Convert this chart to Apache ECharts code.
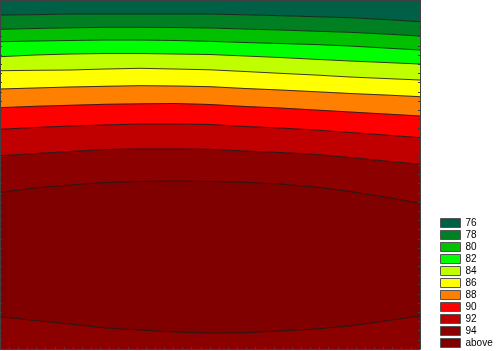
<!DOCTYPE html>
<html>
<head>
<meta charset="utf-8">
<script src="https://cdn.jsdelivr.net/npm/echarts@6/dist/echarts.min.js"></script>
<style>
html,body{margin:0;padding:0;background:#fff;}
#c{width:500px;height:351px;}
</style>
</head>
<body>
<div id="c"></div>
<script>
// Level names and colours (legend)
const levels = ['76','78','80','82','84','86','88','90','92','94','above'];
const levelColors = ['#006046','#008022','#00c000','#00ff00','#c0ff00','#ffff00','#ff8000','#ff0000','#c00000','#8c0000','#800000'];

// x sample positions of the contour boundaries (plot units)
const xs = [0,35,70,105,140,175,210,245,280,315,350,385,420];
const X_MAX = 420, Y_MAX = 349;

// Contour boundary lines (y measured from top of plot)
const line76_78 = [15,14.7,14,14,14,14,14,14.8,15.7,16.7,17.7,19.5,21.7];
const line78_80 = [29.3,28.5,27.8,27.3,27.3,27.5,28,29,30,31.2,32.3,34,36];
const line80_82 = [41.7,41,40.5,40,40,40.5,41.3,42.5,43.5,44.5,46,48,50];
const line82_84 = [56.7,55,54,53.5,53.5,54,54.5,56,57.5,59.3,61,62.5,64];
const line84_86 = [70.7,70.3,70,69,68.3,69,69.8,71.5,73.3,75,77,78.5,80];
const line86_88 = [89,88,87,86.3,85.7,86,86.7,88.5,90,91.7,93.5,95,96.7];
const line88_90 = [107.7,106.3,105.3,104.3,103.8,103.5,104.5,106.5,108,110,112,114,116];
const line90_92 = [129.3,127.5,126,125,124,124,124.5,126.5,128,130,132.5,135,137.7];
const line92_94 = [155.7,153.5,151.5,149.5,149,149,149.3,151,152.5,154.3,157.5,161,164.3];
const aboveTop    = [192.3,188,185,182.5,181.5,181,181.5,182.3,184,187,191.5,197,203.3];
const aboveBottom = [316.7,320.5,324,328,330,332,333,332.7,331,329,326,321,316];

const topEdge = xs.map(() => 0);
const bottomEdge = xs.map(() => Y_MAX);
const boundaries = [topEdge, line76_78, line78_80, line80_82, line82_84, line84_86,
  line86_88, line88_90, line90_92, line92_94, bottomEdge];
const contourLines = [line76_78, line78_80, line80_82, line82_84, line84_86,
  line86_88, line88_90, line90_92, line92_94, aboveTop, aboveBottom];

function bandRenderer(upper, lower, color) {
  return function (params, api) {
    const pts = [];
    for (let j = 0; j < xs.length; j++) pts.push(api.coord([xs[j], upper[j]]));
    for (let j = xs.length - 1; j >= 0; j--) pts.push(api.coord([xs[j], lower[j]]));
    return { type: 'polygon', shape: { points: pts }, style: { fill: color, stroke: color, lineWidth: 0.5 } };
  };
}

const series = [];
for (let k = 0; k < 10; k++) {
  series.push({
    name: levels[k], type: 'custom', xAxisIndex: 0, yAxisIndex: 0,
    itemStyle: { color: levelColors[k] },
    renderItem: bandRenderer(boundaries[k], boundaries[k + 1], levelColors[k]),
    data: [[k]], silent: true, z: 2
  });
}
series.push({
  name: 'above', type: 'custom', xAxisIndex: 0, yAxisIndex: 0,
  itemStyle: { color: levelColors[10] },
  renderItem: bandRenderer(aboveTop, aboveBottom, levelColors[10]),
  data: [[10]], silent: true, z: 2
});
contourLines.forEach((ln, i) => {
  series.push({
    name: 'c' + i, type: 'line', xAxisIndex: 0, yAxisIndex: 0,
    data: xs.map((x, j) => [x, ln[j]]), showSymbol: false, symbol: 'none',
    lineStyle: { color: '#1a1a1a', width: 1, opacity: 0.85 }, silent: true, z: 3
  });
});

function xAx(pos) {
  return { type: 'value', min: 0, max: X_MAX, interval: X_MAX / 46, position: pos, z: 5,
    axisLine: { show: true, onZero: false, lineStyle: { color: '#404040', width: 1 } },
    axisTick: { show: true, inside: true, length: 2, lineStyle: { color: '#404040' } },
    axisLabel: { show: false }, splitLine: { show: false } };
}
function yAx(pos) {
  return { type: 'value', min: 0, max: Y_MAX, interval: Y_MAX / 38, inverse: true, position: pos, z: 5,
    axisLine: { show: true, onZero: false, lineStyle: { color: '#404040', width: 1 } },
    axisTick: { show: true, inside: true, length: 2, lineStyle: { color: '#404040' } },
    axisLabel: { show: false }, splitLine: { show: false } };
}

const chart = echarts.init(document.getElementById('c'), null, { renderer: 'canvas' });
chart.setOption({
  animation: false,
  backgroundColor: '#ffffff',
  grid: { left: 0, top: 0, width: 420, height: 349, containLabel: false },
  xAxis: [xAx('bottom'), xAx('top')],
  yAxis: [yAx('left'), yAx('right')],
  legend: {
    data: levels, orient: 'vertical', left: 440, top: 217, height: 134, padding: 0,
    itemWidth: 20, itemHeight: 9, itemGap: 0, icon: 'rect', selectedMode: false,
    itemStyle: { borderColor: '#555', borderWidth: 1 },
    textStyle: { fontFamily: 'Liberation Sans, Arial, sans-serif', fontSize: 10, lineHeight: 12, height: 12, color: '#000', padding: [0, 0, 0, 0] }
  },
  series: series
});
</script>
</body>
</html>
